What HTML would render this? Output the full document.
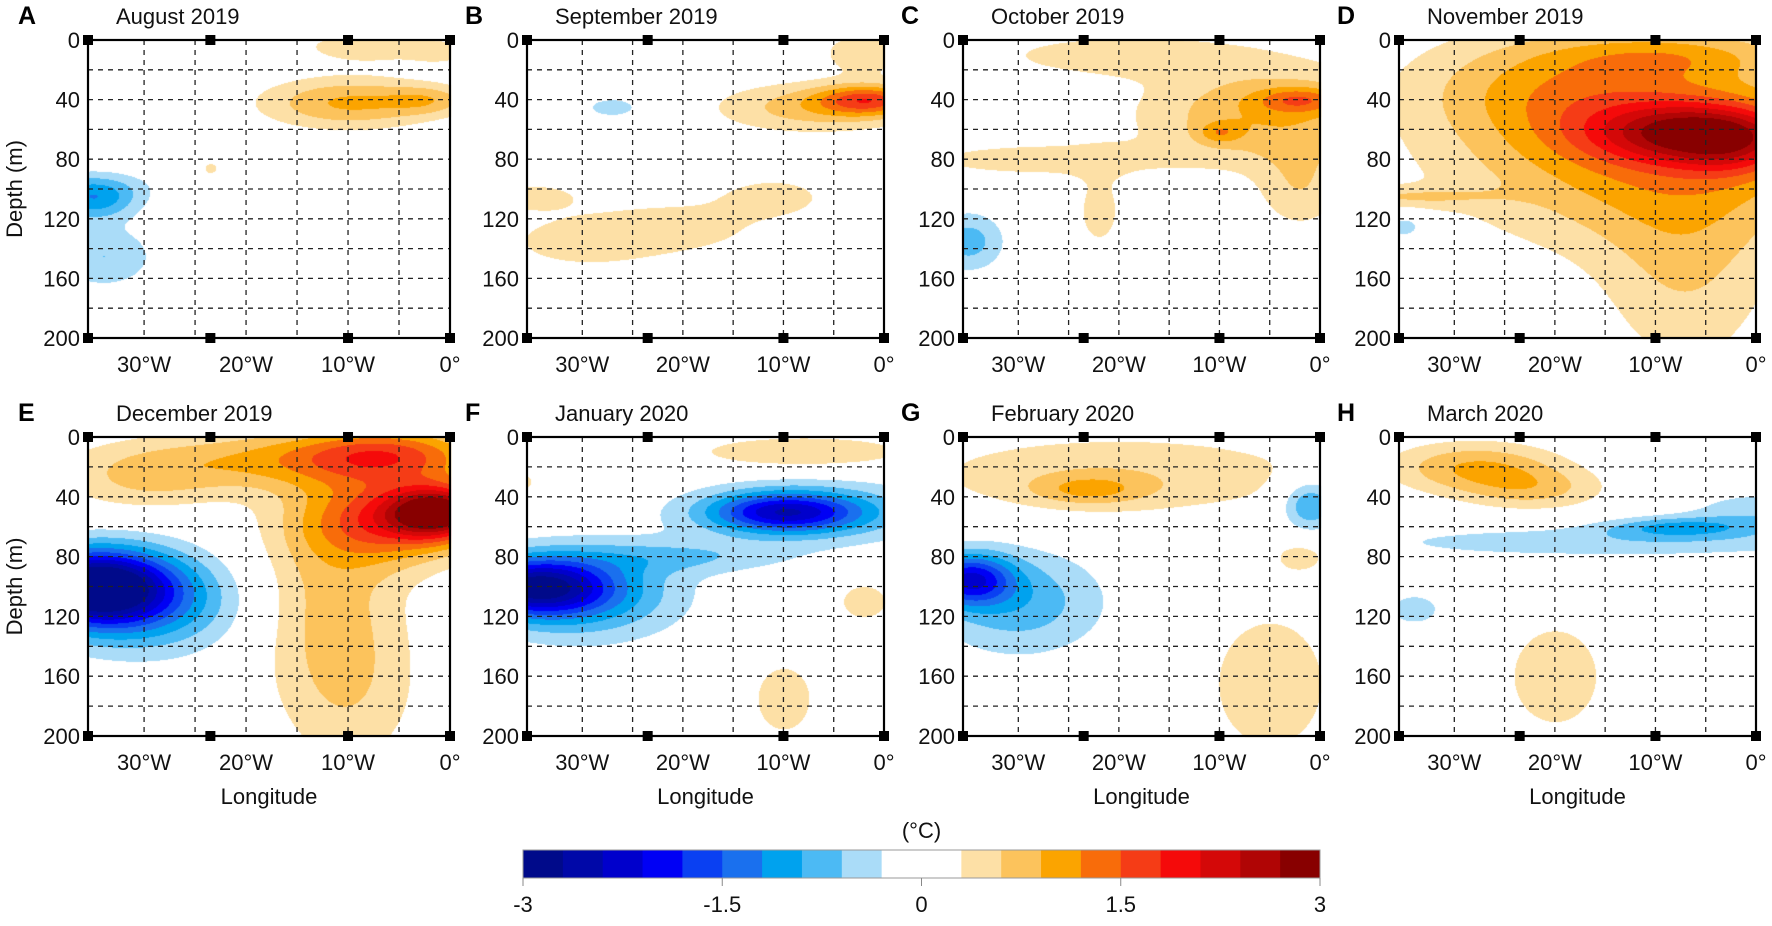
<!DOCTYPE html>
<html><head><meta charset="utf-8">
<style>
html,body{margin:0;padding:0;background:#fff;}
#wrap{position:relative;width:1772px;height:926px;overflow:hidden;font-family:"Liberation Sans",Arial,sans-serif;}
canvas{position:absolute;left:0;top:0;}
svg{position:absolute;left:0;top:0;}
</style></head>
<body>
<div id="wrap">
<canvas id="cv" width="1772" height="926"></canvas>
<svg id="sv" width="1772" height="926"></svg>
</div>
<script>
// ---- data ----
const panelLetters = ["A","B","C","D","E","F","G","H"];
const panelTitles = ["August 2019","September 2019","October 2019","November 2019","December 2019","January 2020","February 2020","March 2020"];
const xTickValues = [-30,-20,-10,0];
const xTickLabels = ["30°W","20°W","10°W","0°"];
const yTickValues = [0,40,80,120,160,200];
const cbarTickValues = [-3,-1.5,0,1.5,3];
const cbarTickLabels = ["-3","-1.5","0","1.5","3"];
const levelColors = ["#000a8a","#0008a8","#0000cc","#0000f5","#0a40f2","#1a70ee","#00a2ee","#4cbaf4","#aadcf8","#ffffff","#ffffff","#fde0a6","#fcc35c","#fba400","#f86c0a","#f53c16","#f50a0a","#d40808","#b00505","#880000"];
// anomaly features per panel: [lon, depth, amplitude(°C), lonWidth, depthWidth]
const fieldA = [[-10,42,0.95,6,12],[-2,40,0.55,3,7],[-8,4,0.5,5,8],[-1,8,0.4,2,5],[-35,108,-0.9,3,9],[-34,145,-0.6,3.5,15],[-35,98,-0.5,4,8],[-23.5,86,0.4,0.7,4]];
const fieldB = [[-1.5,40,1.3,3.5,7],[-7,45,0.75,7,12],[-2,8,0.55,3,10],[-27,45,-0.5,2,5],[-30,135,0.45,6,14],[-20,125,0.42,6,13],[-11,105,0.45,4,10],[-35,105,0.55,3,6]];
const fieldC = [[-5,50,0.9,9,24],[-10,62,0.55,1.5,5],[-2,40,0.8,3,6],[-20,10,0.5,9,10],[-28,80,0.5,9,8],[-22,115,0.4,2,22],[-2,100,0.5,3,20],[-35,135,-0.75,2.5,14]];
const fieldD = [[-10,70,1.2,14,45],[-20,30,0.6,10,25],[-6,62,1.7,7,14],[-2,72,0.6,4,15],[-8,10,0.5,8,10],[-7,160,0.5,6,50],[-35,105,0.45,6,5],[-35,125,-0.55,1.5,6]];
const fieldE = [[-15,15,0.9,12,14],[-6,10,1.0,6,12],[-1,50,2.4,3.5,12],[-6,55,1.5,6,20],[-12,100,0.6,5,45],[-10,170,0.5,5,40],[-30,30,0.5,6,15],[-35,100,-3.0,5,17],[-30,110,-1.1,6.5,24]];
const fieldF = [[-35,100,-2.3,5,13],[-30,105,-1.0,7,22],[-10,50,-1.7,5,9],[-7,50,-0.8,9,15],[-20,80,-0.5,8,8],[-8,10,0.6,8,8],[-36,30,0.45,1,5],[-10,175,0.5,2.5,20],[-2,110,0.5,2,10]];
const fieldG = [[-35,95,-1.8,3,12],[-30,110,-0.8,6,25],[-1,45,-1.0,2,12],[-20,25,0.55,15,20],[-23,35,0.6,4,7],[-5,165,0.5,5,40],[-2,80,0.4,2,8]];
const fieldH = [[-28,20,0.9,6,12],[-22,35,0.6,5,10],[-20,160,0.5,4,30],[-15,70,-0.5,18,8],[-8,60,-0.8,5,5],[-34,115,-0.5,2,8],[0,50,-0.5,5,10]];
const fields = [fieldA,fieldB,fieldC,fieldD,fieldE,fieldF,fieldG,fieldH];

// ---- layout ----
const colL = [88,527,963,1399], colR = [450,884,1320,1756];
const rowT = [40,437], rowB = [338,736];
const lonMin = -35.5, lonMax = 0, depMax = 200;
const NS = "http://www.w3.org/2000/svg";
const sv = document.getElementById('sv');
function mk(tag, attrs, parent){const e=document.createElementNS(NS,tag);for(const k in attrs)e.setAttribute(k,attrs[k]);(parent||sv).appendChild(e);return e;}

const cv = document.getElementById('cv');
const ctx = cv.getContext('2d');
const img = ctx.createImageData(1772,926);
for(let i=0;i<img.data.length;i+=4){img.data[i]=255;img.data[i+1]=255;img.data[i+2]=255;img.data[i+3]=255;}
function hex(c){return [parseInt(c.substr(1,2),16),parseInt(c.substr(3,2),16),parseInt(c.substr(5,2),16)];}
const rgb = levelColors.map(hex);

for(let p=0;p<8;p++){
  const L=colL[p%4], R=colR[p%4], T=rowT[Math.floor(p/4)], B=rowB[Math.floor(p/4)];
  const xs = lon => L+(lon-lonMin)/(lonMax-lonMin)*(R-L);
  const ys = d => T+d/depMax*(B-T);
  const f = fields[p];
  for(let y=T;y<=B;y++){
    const d=(y-T)/(B-T)*depMax;
    for(let x=L;x<=R;x++){
      const lon=lonMin+(x-L)/(R-L)*(lonMax-lonMin);
      let v=0;
      for(const b of f){const dx=(lon-b[0])/b[3],dy=(d-b[1])/b[4];v+=b[2]*Math.exp(-0.5*(dx*dx+dy*dy));}
      let k=Math.floor((v+3)/0.3);k=Math.max(0,Math.min(19,k));
      const c=rgb[k];const i=(y*1772+x)*4;
      img.data[i]=c[0];img.data[i+1]=c[1];img.data[i+2]=c[2];
    }
  }
  const g = mk('g',{});
  
  
  for(let lon=-30;lon<0;lon+=5){
    const l=mk('line',{x1:xs(lon),x2:xs(lon),y1:T,y2:B,stroke:'#222','stroke-width':1.3,'stroke-dasharray':'5,5'},g);
    
    
  }
  for(let d=20;d<200;d+=20){
    const l=mk('line',{x1:L,x2:R,y1:ys(d),y2:ys(d),stroke:'#222','stroke-width':1.3,'stroke-dasharray':'5,5'},g);
    
    
  }
  const fr=mk('rect',{x:L,y:T,width:R-L,height:B-T,fill:'none',stroke:'#000','stroke-width':2.2},g);
  
  
  for(const lon of [lonMin,-23.5,-10,0]){
    for(const yy of [T,B]){
      const s=mk('rect',{x:xs(lon)-5,y:yy-5,width:10,height:10,fill:'#000'},g);
      
      
    }
  }
  for(const d of yTickValues){
    const t=mk('text',{x:L-8,y:ys(d)+8,'text-anchor':'end','font-size':22,fill:'#111'},g);
    t.textContent=d;
    
    
  }
  xTickValues.forEach((lon,i)=>{
    const t=mk('text',{x:xs(lon),y:B+34,'text-anchor':'middle','font-size':22,fill:'#111'},g);
    t.textContent=xTickLabels[i];
    
    
  });
  const lt=mk('text',{x:L-70+(p%4==0?0:8),y:T-16,'font-size':25,'font-weight':'bold',fill:'#000'},g);
  lt.textContent=panelLetters[p];
  
  
  const tt=mk('text',{x:L+28,y:T-16,'font-size':22,fill:'#111'},g);
  tt.textContent=panelTitles[p];
  
  
  if(p%4==0){
    const yl=mk('text',{x:0,y:0,'font-size':22,fill:'#111','text-anchor':'middle',transform:`translate(22,${(T+B)/2}) rotate(-90)`},g);
    yl.textContent='Depth (m)';
    
    
  }
  if(p>=4){
    const xl=mk('text',{x:(L+R)/2,y:B+68,'font-size':22,fill:'#111','text-anchor':'middle'},g);
    xl.textContent='Longitude';
    
    
  }
}
ctx.putImageData(img,0,0);

// colorbar
const cbL=523, cbR=1320, cbT=850, cbB=878;
const cg=mk('g',{});


const cx = v => cbL+(v+3)/6*(cbR-cbL);
levelColors.forEach((c,i)=>{
  const r=mk('rect',{x:cx(-3+i*0.3),y:cbT,width:cx(-2.7+i*0.3)-cx(-3+i*0.3)+0.5,height:cbB-cbT,fill:c},cg);
  
  
});
const cf=mk('rect',{x:cbL,y:cbT,width:cbR-cbL,height:cbB-cbT,fill:'none',stroke:'#999','stroke-width':1},cg);


cbarTickValues.forEach((v,i)=>{
  const l=mk('line',{x1:cx(v),x2:cx(v),y1:cbB,y2:cbB+8,stroke:'#888','stroke-width':1},cg);
  
  
  const t=mk('text',{x:cx(v),y:912,'text-anchor':'middle','font-size':22,fill:'#111'},cg);
  t.textContent=cbarTickLabels[i];
  
  
});
const un=mk('text',{x:(cbL+cbR)/2,y:838,'text-anchor':'middle','font-size':22,fill:'#111'},cg);
un.textContent='(°C)';


</script>
</body></html>
